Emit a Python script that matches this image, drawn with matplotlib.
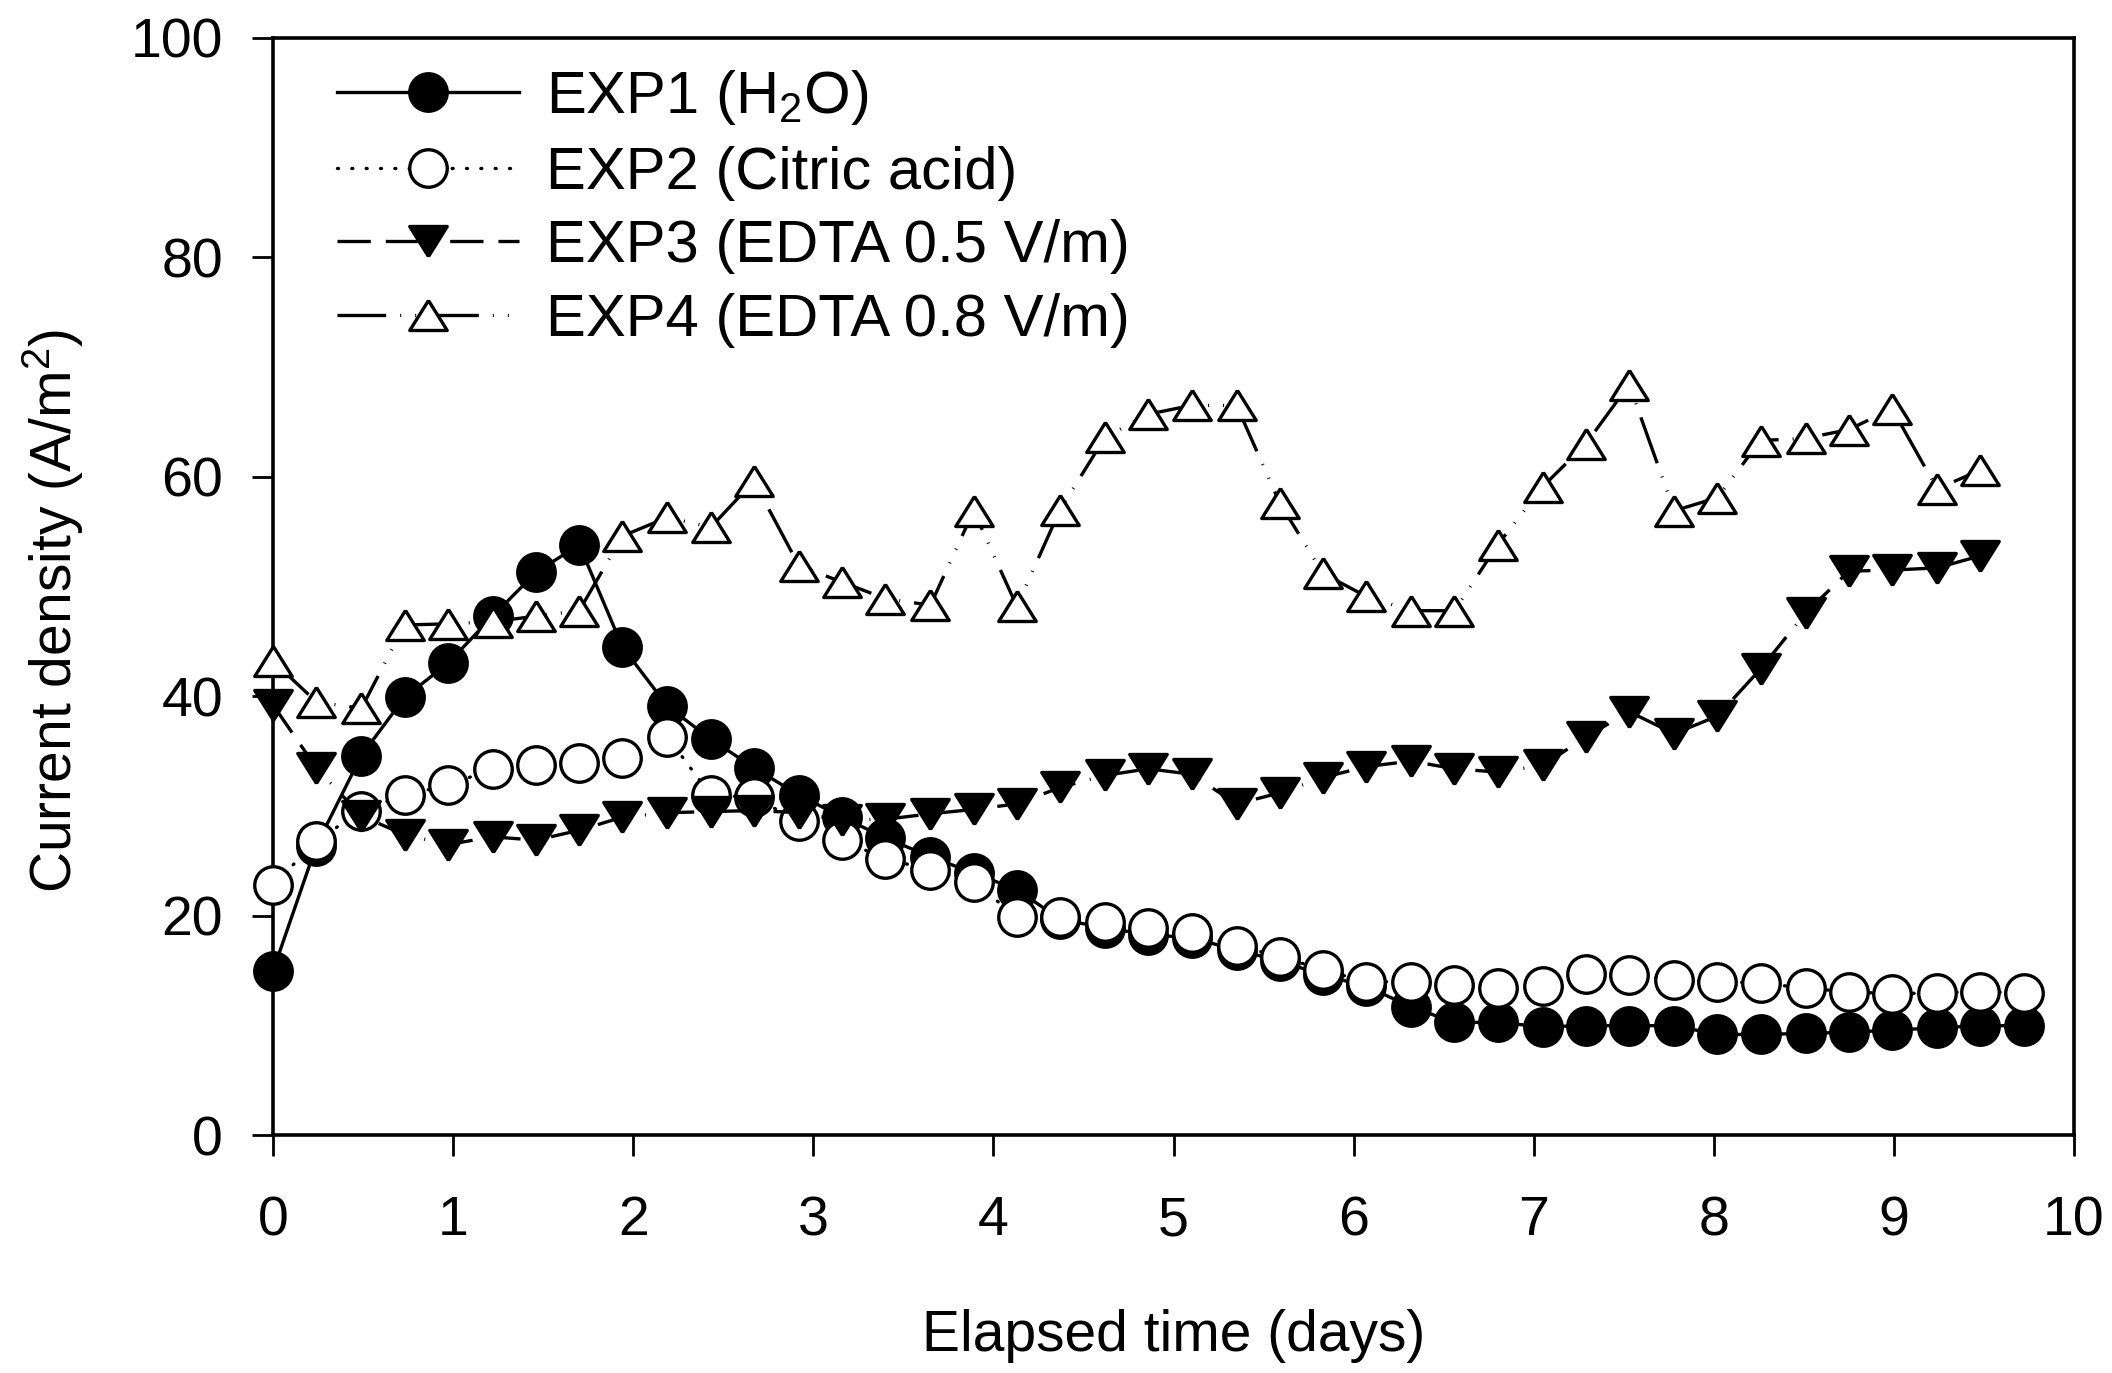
import matplotlib
matplotlib.use("Agg")
import matplotlib.pyplot as plt

plt.rcParams['font.family'] = ['Liberation Sans', 'DejaVu Sans']
plt.rcParams['mathtext.fontset'] = 'custom'
plt.rcParams['mathtext.rm'] = 'Liberation Sans'
plt.rcParams['mathtext.it'] = 'Liberation Sans'
plt.rcParams['mathtext.default'] = 'regular'

# ---- data ----
time_days = [0.00, 0.24, 0.49, 0.73, 0.97, 1.22, 1.46, 1.70, 1.94, 2.19,
             2.43, 2.67, 2.92, 3.16, 3.40, 3.65, 3.89, 4.13, 4.37, 4.62,
             4.86, 5.10, 5.35, 5.59, 5.83, 6.07, 6.32, 6.56, 6.80, 7.05,
             7.29, 7.53, 7.78, 8.02, 8.26, 8.51, 8.75, 8.99, 9.24, 9.48,
             9.72]

exp1_h2o = [15.0, 26.4, 34.6, 39.9, 43.0, 47.3, 51.3, 53.8, 44.5, 39.1,
            36.1, 33.5, 31.0, 29.0, 27.1, 25.4, 23.9, 22.4, 19.7, 18.9,
            18.3, 18.0, 16.9, 15.9, 14.6, 13.6, 11.7, 10.3, 10.3, 9.9,
            10.0, 10.0, 10.0, 9.2, 9.2, 9.3, 9.4, 9.6, 9.8, 10.0,
            10.0]

exp2_citric = [22.8, 26.8, 29.6, 31.0, 31.9, 33.4, 33.7, 33.9, 34.4, 36.3,
               31.0, 30.8, 28.6, 26.9, 25.2, 24.2, 23.1, 19.9, 19.9, 19.4,
               18.9, 18.4, 17.3, 16.3, 15.1, 14.0, 14.0, 13.7, 13.4, 13.6,
               14.7, 14.6, 14.2, 14.0, 13.9, 13.4, 13.1, 12.9, 13.0, 13.1,
               13.0]

exp3_edta05 = [39.2, 33.5, 29.1, 27.4, 26.5, 27.2, 26.9, 27.8, 29.0, 29.4,
               29.5, 29.6, 29.4, 28.7, 28.8, 29.3, 29.7, 30.2, 31.7, 32.8,
               33.4, 32.9, 30.2, 31.2, 32.6, 33.6, 34.1, 33.4, 33.1, 33.7,
               36.3, 38.6, 36.6, 38.2, 42.5, 47.6, 51.4, 51.5, 51.7, 52.8]

exp4_edta08 = [43.2, 39.5, 38.9, 46.5, 46.6, 46.8, 47.3, 47.8, 54.6, 56.3,
               55.4, 59.6, 51.9, 50.4, 48.9, 48.3, 56.9, 48.2, 57.0, 63.6,
               65.7, 66.5, 66.5, 57.6, 51.2, 49.1, 47.8, 47.8, 53.8, 59.1,
               63.0, 68.4, 56.9, 58.1, 63.3, 63.5, 64.3, 66.2, 58.9, 60.6]

labels = ['EXP1 (H$_2$O)', 'EXP2 (Citric acid)',
          'EXP3 (EDTA 0.5 V/m)', 'EXP4 (EDTA 0.8 V/m)']
x_ticks = [0, 1, 2, 3, 4, 5, 6, 7, 8, 9, 10]
y_ticks = [0, 20, 40, 60, 80, 100]

# ---- figure ----
fig = plt.figure(figsize=(21.12, 13.73), dpi=100)
ax = fig.add_axes([0.1293, 0.1730, 0.8527, 0.7996])

tri_up = [(0, 0.8), (-1, -0.8), (1, -0.8), (0, 0.8)]
tri_dn = [(0, -0.8), (-1, 0.8), (1, 0.8), (0, -0.8)]

lw = 2.4
ms = 27
n3 = len(exp3_edta05)
n4 = len(exp4_edta08)

ax.plot(time_days, exp1_h2o, linestyle='-', color='black', lw=lw,
        marker='o', ms=ms, mfc='black', mec='black', mew=lw,
        label=labels[0], zorder=3, clip_on=False)
ax.plot(time_days, exp2_citric, linestyle=(0, (0.3, 4.0)), color='black',
        lw=lw, dash_capstyle='round',
        marker='o', ms=ms, mfc='white', mec='black', mew=lw,
        label=labels[1], zorder=4, clip_on=False)
ax.plot(time_days[:n3], exp3_edta05,
        linestyle=(0, (10, 4.5, 10, 4.5, 0.3, 4.5)),
        color='black', lw=lw,
        marker=tri_dn, ms=ms, mfc='black', mec='black', mew=lw,
        label=labels[2], zorder=5, clip_on=False)
ax.plot(time_days[:n4], exp4_edta08,
        linestyle=(0, (14.6, 4.2, 0.3, 4.2, 0.3, 4.2)),
        color='black', lw=lw,
        marker=tri_up, ms=ms, mfc='white', mec='black', mew=lw,
        label=labels[3], zorder=6, clip_on=False)

ax.set_xlim(0, 10)
ax.set_ylim(0, 100)
ax.set_xticks(x_ticks)
ax.set_yticks(y_ticks)
ax.tick_params(axis='both', which='major', direction='out', length=15,
               width=2.0, labelsize=40, colors='black')
ax.tick_params(axis='x', pad=28)
ax.tick_params(axis='y', pad=21)
ax.tick_params(top=False, right=False)
for s in ax.spines.values():
    s.set_linewidth(2.6)
    s.set_color('black')

ax.set_xlabel('Elapsed time (days)', fontsize=41, va='top')
ax.xaxis.set_label_coords(0.5, -0.158)
ax.set_ylabel('Current density (A/m$^2$)', fontsize=41)
ax.yaxis.set_label_coords(-0.104, 0.478)

leg = ax.legend(loc='upper left', bbox_to_anchor=(0.0355, 0.972),
                frameon=False, fontsize=43, handlelength=3.05,
                handletextpad=0.45, labelspacing=0.31, borderpad=0,
                borderaxespad=0, numpoints=1)

fig.savefig('out.png', dpi=100)
